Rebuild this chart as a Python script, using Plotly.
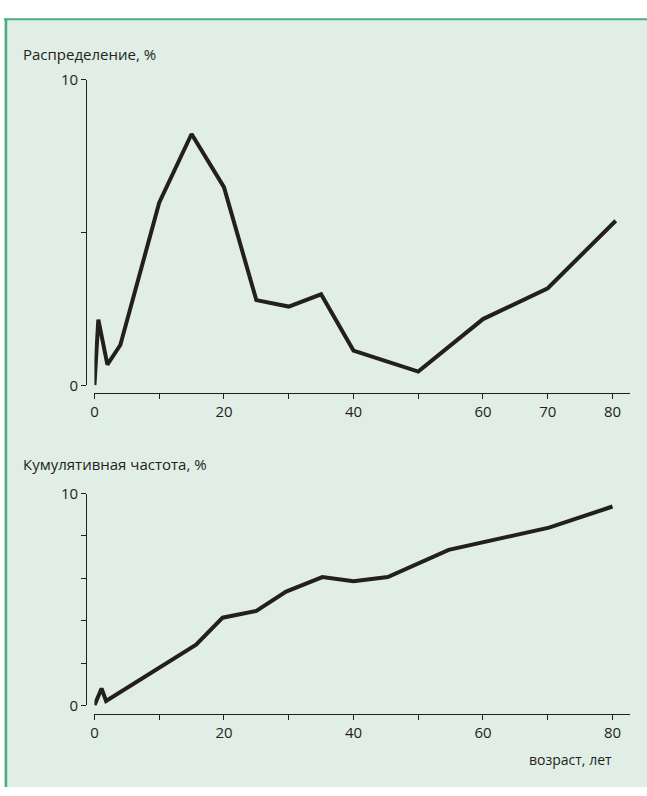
import plotly.graph_objects as go

# ---- data ----
age_dist = [0, 0.6, 2, 4, 10, 15, 20, 25, 30, 35, 40, 50, 60, 70, 80.5]
dist_pct = [0, 2.15, 0.68, 1.32, 5.98, 8.23, 6.49, 2.79, 2.58, 2.98, 1.14, 0.45, 2.17, 3.18, 5.39]

age_cum = [0, 1.1, 1.8, 15.7, 19.8, 25, 29.6, 35.2, 40, 45.3, 54.7, 70.2, 80]
cum_pct = [0, 0.80, 0.21, 2.87, 4.14, 4.46, 5.37, 6.06, 5.86, 6.06, 7.34, 8.39, 9.39]

x_tickvals = [0, 10, 20, 30, 40, 50, 60, 70, 80]
x_ticktext_top = ["0", "", "20", "", "40", "", "60", "70", "80"]
x_ticktext_bot = ["0", "", "20", "", "40", "", "60", "", "80"]
y_tickvals_top = [0, 5, 10]
y_ticktext_top = ["0", "", "10"]
y_tickvals_bot = [0, 2, 4, 6, 8, 10]
y_ticktext_bot = ["0", "", "", "", "", "10"]

title_top = "Распределение, %"
title_bot = "Кумулятивная частота, %"
x_label = "возраст, лет"

# ---- layout geometry (pixels) ----
W, H = 647, 796
INK = "#231F20"
BG = "#E0EEE5"
FRAME = "#4FAE80"
FONT = "Open Sans"
FS = 15

def px(x):
    return x / W

def py(y):
    return 1 - y / H

x0, x1 = 91, 630
ppu = (612.3 - 91) / 80.0
x_range = [0, (x1 - x0) / ppu]

fig = go.Figure()
fig.add_trace(go.Scatter(x=age_dist, y=dist_pct, mode="lines",
                         line=dict(color=INK, width=4, shape="linear"),
                         xaxis="x", yaxis="y", showlegend=False, hoverinfo="skip"))
fig.add_trace(go.Scatter(x=age_cum, y=cum_pct, mode="lines",
                         line=dict(color=INK, width=4, shape="linear"),
                         xaxis="x2", yaxis="y2", showlegend=False, hoverinfo="skip"))

axis_common = dict(showline=True, linecolor=INK, linewidth=1, ticks="outside",
                   ticklen=5, tickwidth=1, tickcolor=INK, showgrid=False,
                   zeroline=False, tickfont=dict(family=FONT, size=FS, color=INK),
                   fixedrange=True)

fig.update_layout(
    width=W, height=H,
    margin=dict(l=0, r=0, t=0, b=0),
    paper_bgcolor="white",
    plot_bgcolor="rgba(0,0,0,0)",
    font=dict(family=FONT, size=FS, color=INK),
    xaxis=dict(domain=[px(x0), px(x1)], range=x_range, anchor="free",
               position=py(392), tickmode="array", tickvals=x_tickvals,
               ticktext=x_ticktext_top, **axis_common),
    yaxis=dict(domain=[py(384), py(70.7)], range=[0, 10], anchor="free",
               position=px(82.7), tickmode="array", tickvals=y_tickvals_top,
               ticktext=y_ticktext_top, **axis_common),
    xaxis2=dict(domain=[px(x0), px(x1)], range=x_range, anchor="free",
                position=py(720.7), tickmode="array", tickvals=x_tickvals,
                ticktext=x_ticktext_bot, **axis_common),
    yaxis2=dict(domain=[py(712.3), py(495)], range=[0, 10], anchor="free",
                position=px(82.7), tickmode="array", tickvals=y_tickvals_bot,
                ticktext=y_ticktext_bot, **axis_common),
    shapes=[
        dict(type="rect", xref="paper", yref="paper", x0=0, x1=1, y0=0, y1=py(8),
             fillcolor=BG, line=dict(width=0), layer="below"),
        dict(type="line", xref="paper", yref="paper", x0=0, x1=1, y0=py(8.5), y1=py(8.5),
             line=dict(color=FRAME, width=2), layer="below"),
        dict(type="line", xref="paper", yref="paper", x0=px(2), x1=px(2), y0=0, y1=py(8),
             line=dict(color=FRAME, width=2.5), layer="below"),
    ],
    annotations=[
        dict(text=title_top, xref="paper", yref="paper", x=px(17), y=py(44),
             xanchor="left", yanchor="middle", showarrow=False,
             font=dict(family=FONT, size=15, color=INK)),
        dict(text=title_bot, xref="paper", yref="paper", x=px(17), y=py(465),
             xanchor="left", yanchor="middle", showarrow=False,
             font=dict(family=FONT, size=15, color=INK)),
        dict(text=x_label, xref="paper", yref="paper", x=px(614), y=py(768),
             xanchor="right", yanchor="middle", showarrow=False,
             font=dict(family=FONT, size=14, color=INK)),
    ],
)

fig.write_html("out.html",
               config={"displayModeBar": False, "staticPlot": True},
               post_script="document.body.style.margin='0';"
                           "document.body.style.overflow='hidden';")
